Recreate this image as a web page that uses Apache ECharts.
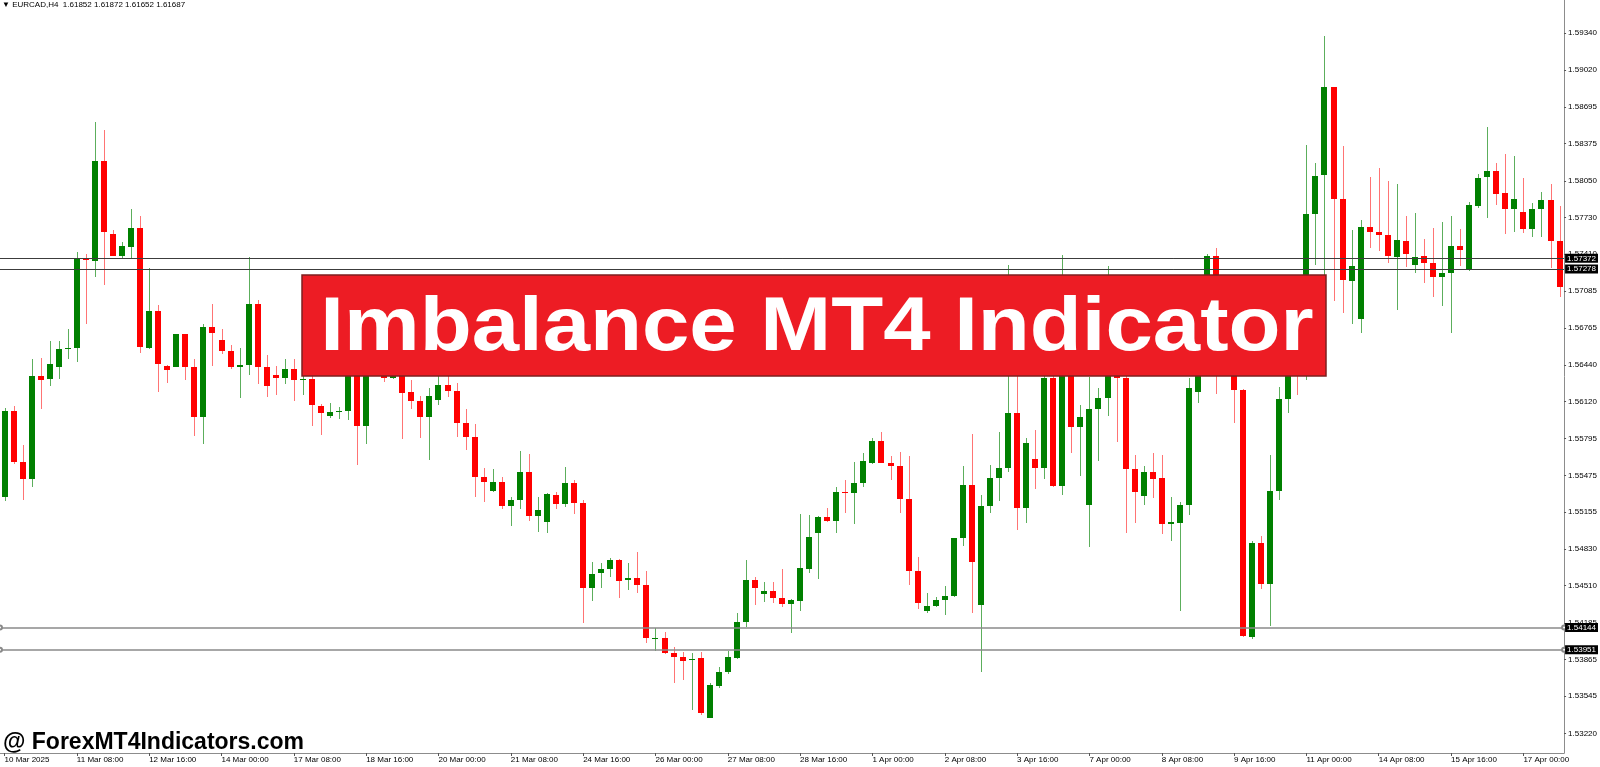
<!DOCTYPE html>
<html lang="en">
<head>
    <meta charset="UTF-8">
    <title>EURCAD H4</title>
    <script src="https://cdn.jsdelivr.net/npm/echarts@6/dist/echarts.min.js"></script>
    <style>
        html, body { margin: 0; padding: 0; background: #fff; }
        #main { width: 1600px; height: 767px; }
    </style>
</head>
<body>
<div id="main"></div>

<script type="text/javascript">
    // trading days shown (H4, 6 bars a day, weekends skipped)
    var tradingDays = ['10 Mar', '11 Mar', '12 Mar', '13 Mar', '14 Mar',
        '17 Mar', '18 Mar', '19 Mar', '20 Mar', '21 Mar',
        '24 Mar', '25 Mar', '26 Mar', '27 Mar', '28 Mar',
        '31 Mar', '1 Apr', '2 Apr', '3 Apr', '4 Apr',
        '7 Apr', '8 Apr', '9 Apr', '10 Apr', '11 Apr',
        '14 Apr', '15 Apr', '16 Apr', '17 Apr'];
    var barHours = ['00:00', '04:00', '08:00', '12:00', '16:00', '20:00'];
    var barCount = 173;

    var opens = [
        1.55287, 1.56041, 1.55591, 1.55440, 1.56340, 1.56316, 1.56418, 1.56583, 1.56592, 1.57372,
        1.57349, 1.58219, 1.57581, 1.57395, 1.57470, 1.57633, 1.56592, 1.56908, 1.56427, 1.56424,
        1.56708, 1.56418, 1.55983, 1.56772, 1.56656, 1.56563, 1.56418, 1.56438, 1.56969, 1.56424,
        1.56351, 1.56328, 1.56403, 1.56312, 1.56316, 1.56084, 1.55990, 1.56026, 1.56040, 1.56400,
        1.55910, 1.56380, 1.56470, 1.56329, 1.56400, 1.56201, 1.56125, 1.55985, 1.56134, 1.56262,
        1.56213, 1.55933, 1.55814, 1.55464, 1.55339, 1.55415, 1.55211, 1.55260, 1.55508, 1.55120,
        1.55071, 1.55304, 1.55225, 1.55412, 1.55231, 1.54494, 1.54619, 1.54654, 1.54736, 1.54558,
        1.54575, 1.54517, 1.54045, 1.54057, 1.53926, 1.53891, 1.53862, 1.53877, 1.53358, 1.53637,
        1.53754, 1.53882, 1.54197, 1.54561, 1.54439, 1.54465, 1.54401, 1.54348, 1.54380, 1.54657,
        1.54969, 1.55114, 1.55079, 1.55333, 1.55324, 1.55412, 1.55586, 1.55773, 1.55580, 1.55560,
        1.55269, 1.54643, 1.54290, 1.54337, 1.54386, 1.54424, 1.54925, 1.55391, 1.54343, 1.55208,
        1.55450, 1.55537, 1.56023, 1.55187, 1.55615, 1.55537, 1.56329, 1.55385, 1.56600, 1.55895,
        1.55216, 1.56052, 1.56149, 1.56400, 1.56329, 1.55534, 1.55292, 1.55506, 1.55454, 1.55053,
        1.55060, 1.55219, 1.56207, 1.56500, 1.57393, 1.56600, 1.56500, 1.56218, 1.54058, 1.54887,
        1.54524, 1.55336, 1.56138, 1.56600, 1.56450, 1.57756, 1.58101, 1.58868, 1.57890, 1.57173,
        1.56838, 1.57650, 1.57600, 1.57579, 1.57387, 1.57527, 1.57314, 1.57392, 1.57334, 1.57206,
        1.57241, 1.57480, 1.57270, 1.57830, 1.58079, 1.58137, 1.57941, 1.57801, 1.57775, 1.57626,
        1.57804, 1.57883, 1.57524
    ];
    var highs = [
        1.56060, 1.56080, 1.55736, 1.56496, 1.56505, 1.56650, 1.56650, 1.56751, 1.57424, 1.57413,
        1.58564, 1.58497, 1.57616, 1.57517, 1.57801, 1.57743, 1.57288, 1.56960, 1.56438, 1.56714,
        1.56714, 1.56496, 1.56795, 1.56969, 1.56751, 1.56612, 1.56592, 1.57384, 1.57012, 1.56525,
        1.56432, 1.56496, 1.56496, 1.56621, 1.56340, 1.56100, 1.56105, 1.56076, 1.56450, 1.56480,
        1.56460, 1.56580, 1.56520, 1.56440, 1.56500, 1.56309, 1.56169, 1.56242, 1.56344, 1.56344,
        1.56285, 1.56055, 1.55921, 1.55537, 1.55528, 1.55464, 1.55283, 1.55688, 1.55662, 1.55283,
        1.55324, 1.55330, 1.55546, 1.55435, 1.55260, 1.54721, 1.54707, 1.54750, 1.54740, 1.54707,
        1.54809, 1.54643, 1.54144, 1.54110, 1.53978, 1.53935, 1.53920, 1.53935, 1.53664, 1.53804,
        1.53943, 1.54275, 1.54736, 1.54584, 1.54540, 1.54540, 1.54654, 1.54392, 1.55138, 1.55129,
        1.55120, 1.55187, 1.55371, 1.55430, 1.55595, 1.55668, 1.55799, 1.55857, 1.55645, 1.55682,
        1.55645, 1.54759, 1.54444, 1.54415, 1.54508, 1.54930, 1.55557, 1.55834, 1.55304, 1.55566,
        1.55857, 1.57314, 1.56400, 1.55800, 1.55872, 1.56500, 1.56450, 1.57401, 1.56700, 1.56090,
        1.56338, 1.56236, 1.57305, 1.56550, 1.56450, 1.55653, 1.55558, 1.55672, 1.55654, 1.55285,
        1.55240, 1.56328, 1.56600, 1.57410, 1.57458, 1.56750, 1.56600, 1.56230, 1.54900, 1.54946,
        1.55654, 1.56250, 1.56600, 1.56750, 1.58364, 1.58201, 1.59318, 1.58870, 1.58357, 1.57620,
        1.57708, 1.58080, 1.58160, 1.58052, 1.58020, 1.57743, 1.57766, 1.57538, 1.57641, 1.57687,
        1.57743, 1.57629, 1.57860, 1.58111, 1.58520, 1.58204, 1.58286, 1.58268, 1.58073, 1.57854,
        1.57950, 1.58020, 1.57830
    ];
    var lows = [
        1.55250, 1.55577, 1.55258, 1.55374, 1.56055, 1.56258, 1.56316, 1.56496, 1.56467, 1.56795,
        1.57210, 1.57143, 1.57390, 1.57378, 1.57366, 1.56548, 1.56583, 1.56206, 1.56282, 1.56420,
        1.56310, 1.55823, 1.55751, 1.56432, 1.56534, 1.56403, 1.56151, 1.56351, 1.56273, 1.56163,
        1.56177, 1.56270, 1.56128, 1.56177, 1.55910, 1.55828, 1.55974, 1.55965, 1.55959, 1.55566,
        1.55747, 1.56360, 1.56288, 1.56320, 1.55790, 1.56055, 1.55799, 1.55610, 1.56090, 1.56163,
        1.55814, 1.55697, 1.55283, 1.55240, 1.55330, 1.55179, 1.55033, 1.55179, 1.55080, 1.54983,
        1.54975, 1.55179, 1.55202, 1.55135, 1.54188, 1.54377, 1.54488, 1.54584, 1.54401, 1.54474,
        1.54444, 1.54007, 1.53941, 1.53911, 1.53658, 1.53687, 1.53425, 1.53381, 1.53352, 1.53614,
        1.53740, 1.53868, 1.54147, 1.54343, 1.54372, 1.54357, 1.54328, 1.54095, 1.54293, 1.54619,
        1.54567, 1.55070, 1.54969, 1.55149, 1.55050, 1.55371, 1.55572, 1.55580, 1.55430, 1.55149,
        1.54517, 1.54305, 1.54270, 1.54328, 1.54255, 1.54410, 1.54858, 1.54275, 1.53760, 1.55149,
        1.55254, 1.55508, 1.54998, 1.55062, 1.55353, 1.55441, 1.55371, 1.55300, 1.55668, 1.55470,
        1.54852, 1.55604, 1.55994, 1.55770, 1.54975, 1.55062, 1.55212, 1.55281, 1.54963, 1.54901,
        1.54289, 1.55126, 1.56104, 1.56400, 1.56190, 1.56400, 1.55931, 1.54058, 1.54047, 1.54480,
        1.54162, 1.55257, 1.56017, 1.56173, 1.56311, 1.57313, 1.57227, 1.57002, 1.56892, 1.56794,
        1.56715, 1.57460, 1.57439, 1.57334, 1.56919, 1.57299, 1.57241, 1.57153, 1.57030, 1.56954,
        1.56715, 1.57308, 1.57264, 1.57810, 1.57722, 1.57839, 1.57582, 1.57606, 1.57591, 1.57562,
        1.57562, 1.57284, 1.57036
    ];
    var closes = [
        1.56041, 1.55591, 1.55446, 1.56340, 1.56311, 1.56447, 1.56577, 1.56592, 1.57372, 1.57355,
        1.58219, 1.57598, 1.57395, 1.57476, 1.57633, 1.56601, 1.56908, 1.56447, 1.56398, 1.56708,
        1.56424, 1.55983, 1.56772, 1.56722, 1.56563, 1.56418, 1.56438, 1.56969, 1.56424, 1.56258,
        1.56328, 1.56403, 1.56310, 1.56318, 1.56090, 1.56017, 1.56026, 1.56038, 1.56361, 1.55910,
        1.56367, 1.56500, 1.56329, 1.56355, 1.56198, 1.56125, 1.55985, 1.56172, 1.56262, 1.56213,
        1.55933, 1.55814, 1.55464, 1.55420, 1.55415, 1.55211, 1.55260, 1.55508, 1.55123, 1.55173,
        1.55310, 1.55225, 1.55412, 1.55237, 1.54494, 1.54610, 1.54654, 1.54736, 1.54552, 1.54575,
        1.54517, 1.54057, 1.54057, 1.53926, 1.53891, 1.53853, 1.53874, 1.53402, 1.53643, 1.53754,
        1.53891, 1.54191, 1.54561, 1.54488, 1.54465, 1.54401, 1.54348, 1.54386, 1.54663, 1.54940,
        1.55114, 1.55079, 1.55333, 1.55324, 1.55412, 1.55604, 1.55773, 1.55586, 1.55560, 1.55269,
        1.54643, 1.54357, 1.54337, 1.54386, 1.54424, 1.54925, 1.55391, 1.54715, 1.55208, 1.55450,
        1.55543, 1.56023, 1.55187, 1.55761, 1.55537, 1.56329, 1.55385, 1.56650, 1.55895, 1.55988,
        1.56052, 1.56149, 1.56500, 1.56329, 1.55534, 1.55333, 1.55506, 1.55447, 1.55050, 1.55063,
        1.55212, 1.56235, 1.56500, 1.57393, 1.56600, 1.56500, 1.56225, 1.54075, 1.54887, 1.54524,
        1.55336, 1.56138, 1.56500, 1.56450, 1.57756, 1.58094, 1.58868, 1.57890, 1.57182, 1.57305,
        1.57650, 1.57600, 1.57579, 1.57392, 1.57533, 1.57407, 1.57387, 1.57334, 1.57206, 1.57241,
        1.57480, 1.57445, 1.57839, 1.58073, 1.58137, 1.57933, 1.57804, 1.57889, 1.57626, 1.57804,
        1.57883, 1.57524, 1.57124
    ];

    // price scale labels on the right
    var priceTicks = [1.59340, 1.59020, 1.58695, 1.58375, 1.58050, 1.57730, 1.57410, 1.57085,
        1.56765, 1.56440, 1.56120, 1.55795, 1.55475, 1.55155, 1.54830, 1.54510, 1.54185,
        1.53865, 1.53545, 1.53220];
    // horizontal levels
    var upperLevels = [1.57372, 1.57278];
    var lowerLevels = [1.54144, 1.53951];

    var bullColor = '#008000', bearColor = '#ff0000';
    var bullWick = '#5cae5c', bearWick = '#ff7474';

    var categories = [];
    for (var d = 0; d < tradingDays.length; d++) {
        for (var h = 0; h < barHours.length; h++) {
            categories.push(tradingDays[d] + ' ' + barHours[h]);
        }
    }
    categories = categories.slice(0, barCount);

    var candleData = [];
    for (var i = 0; i < barCount; i++) {
        candleData.push([i, opens[i], closes[i], lows[i], highs[i]]);
    }

    function renderCandle(params, api) {
        var idx = api.value(0);
        var o = api.value(1), c = api.value(2), l = api.value(3), hi = api.value(4);
        var px = api.coord([idx, o]);
        var r = Math.round(px[0]);
        var yo = px[1];
        var yc = api.coord([idx, c])[1];
        var yl = Math.round(api.coord([idx, l])[1]);
        var yh = Math.round(api.coord([idx, hi])[1]);
        var up = c >= o;
        var top = Math.round(Math.min(yo, yc));
        var bot = Math.round(Math.max(yo, yc));
        if (bot - top < 1) bot = top + 1;
        return {
            type: 'group',
            children: [{
                type: 'rect',
                shape: {x: r, y: yh, width: 1, height: Math.max(yl - yh, 1)},
                style: {fill: up ? bullWick : bearWick}
            }, {
                type: 'rect',
                shape: {x: r - 3, y: top, width: 6, height: bot - top},
                style: {fill: up ? bullColor : bearColor}
            }]
        };
    }

    function levelLines(levels, color, width) {
        return levels.map(function (v) {
            return {yAxis: v, lineStyle: {color: color, width: width, type: 'solid'}};
        });
    }

    var levelLabel = {
        position: 'end',
        distance: 1,
        formatter: function (p) { return p.value.toFixed(5); },
        backgroundColor: '#000',
        color: '#fff',
        fontSize: 8,
        fontFamily: 'Liberation Sans',
        padding: [1, 2, 0, 2]
    };

    var chart = echarts.init(document.getElementById('main'));

    chart.setOption({
        animation: false,
        backgroundColor: '#ffffff',
        grid: {left: -3.2, right: 35, top: 0, bottom: 14},
        xAxis: {
            type: 'category',
            data: categories,
            boundaryGap: true,
            axisLine: {show: true, lineStyle: {color: '#8c8c8c', width: 1}},
            axisTick: {show: true, interval: 7, alignWithLabel: true, length: 3, lineStyle: {color: '#555'}},
            axisLabel: {
                interval: 7,
                align: 'left',
                margin: 3,
                fontSize: 8,
                fontFamily: 'Liberation Sans',
                color: '#000',
                formatter: function (value, index) {
                    return index === 0 ? '10 Mar 2025' : value;
                }
            },
            splitLine: {show: false}
        },
        yAxis: {
            type: 'value',
            position: 'right',
            min: 1.53048,
            max: 1.59630,
            axisLine: {show: true, lineStyle: {color: '#8c8c8c', width: 1}},
            axisTick: {show: true, customValues: priceTicks, length: 2, lineStyle: {color: '#555'}},
            axisLabel: {
                customValues: priceTicks,
                margin: 4,
                fontSize: 8,
                fontFamily: 'Liberation Sans',
                color: '#000',
                formatter: function (v) { return v.toFixed(5); }
            },
            splitLine: {show: false}
        },
        series: [{
            type: 'line',
            data: [],
            z: 1,
            markLine: {
                silent: true,
                animation: false,
                precision: 5,
                symbol: 'none',
                label: levelLabel,
                data: levelLines(upperLevels, '#3c3c3c', 1)
            }
        }, {
            type: 'line',
            data: [],
            z: 1,
            markLine: {
                silent: true,
                animation: false,
                precision: 5,
                symbol: ['emptyCircle', 'emptyCircle'],
                symbolSize: 4,
                label: levelLabel,
                data: levelLines(lowerLevels, '#8a8a8a', 1.5)
            }
        }, {
            type: 'custom',
            renderItem: renderCandle,
            data: candleData,
            encode: {x: 0, y: [1, 2, 3, 4]},
            z: 3,
            clip: true
        }],
        graphic: [{
            type: 'text',
            left: 2,
            top: 1,
            z: 10,
            style: {
                text: '\u25BC EURCAD,H4  1.61852 1.61872 1.61652 1.61687',
                font: '8px "Liberation Sans"',
                fill: '#000'
            }
        }, {
            type: 'rect',
            z: 20,
            shape: {x: 302, y: 275, width: 1024, height: 101},
            style: {fill: '#ed1c24', stroke: '#7d1f1f', lineWidth: 1.5}
        }, {
            type: 'text',
            z: 21,
            x: 817,
            y: 329,
            scaleX: 1.12,
            style: {
                text: 'Imbalance MT4 Indicator',
                font: 'bold 76px "Liberation Sans"',
                fill: '#ffffff',
                align: 'center',
                verticalAlign: 'middle'
            }
        }, {
            type: 'text',
            z: 21,
            x: 3,
            y: 743,
            style: {
                text: '@ ForexMT4Indicators.com',
                font: 'bold 23px "Liberation Sans"',
                fill: '#000000',
                align: 'left',
                verticalAlign: 'middle'
            }
        }]
    });
</script>
</body>
</html>
